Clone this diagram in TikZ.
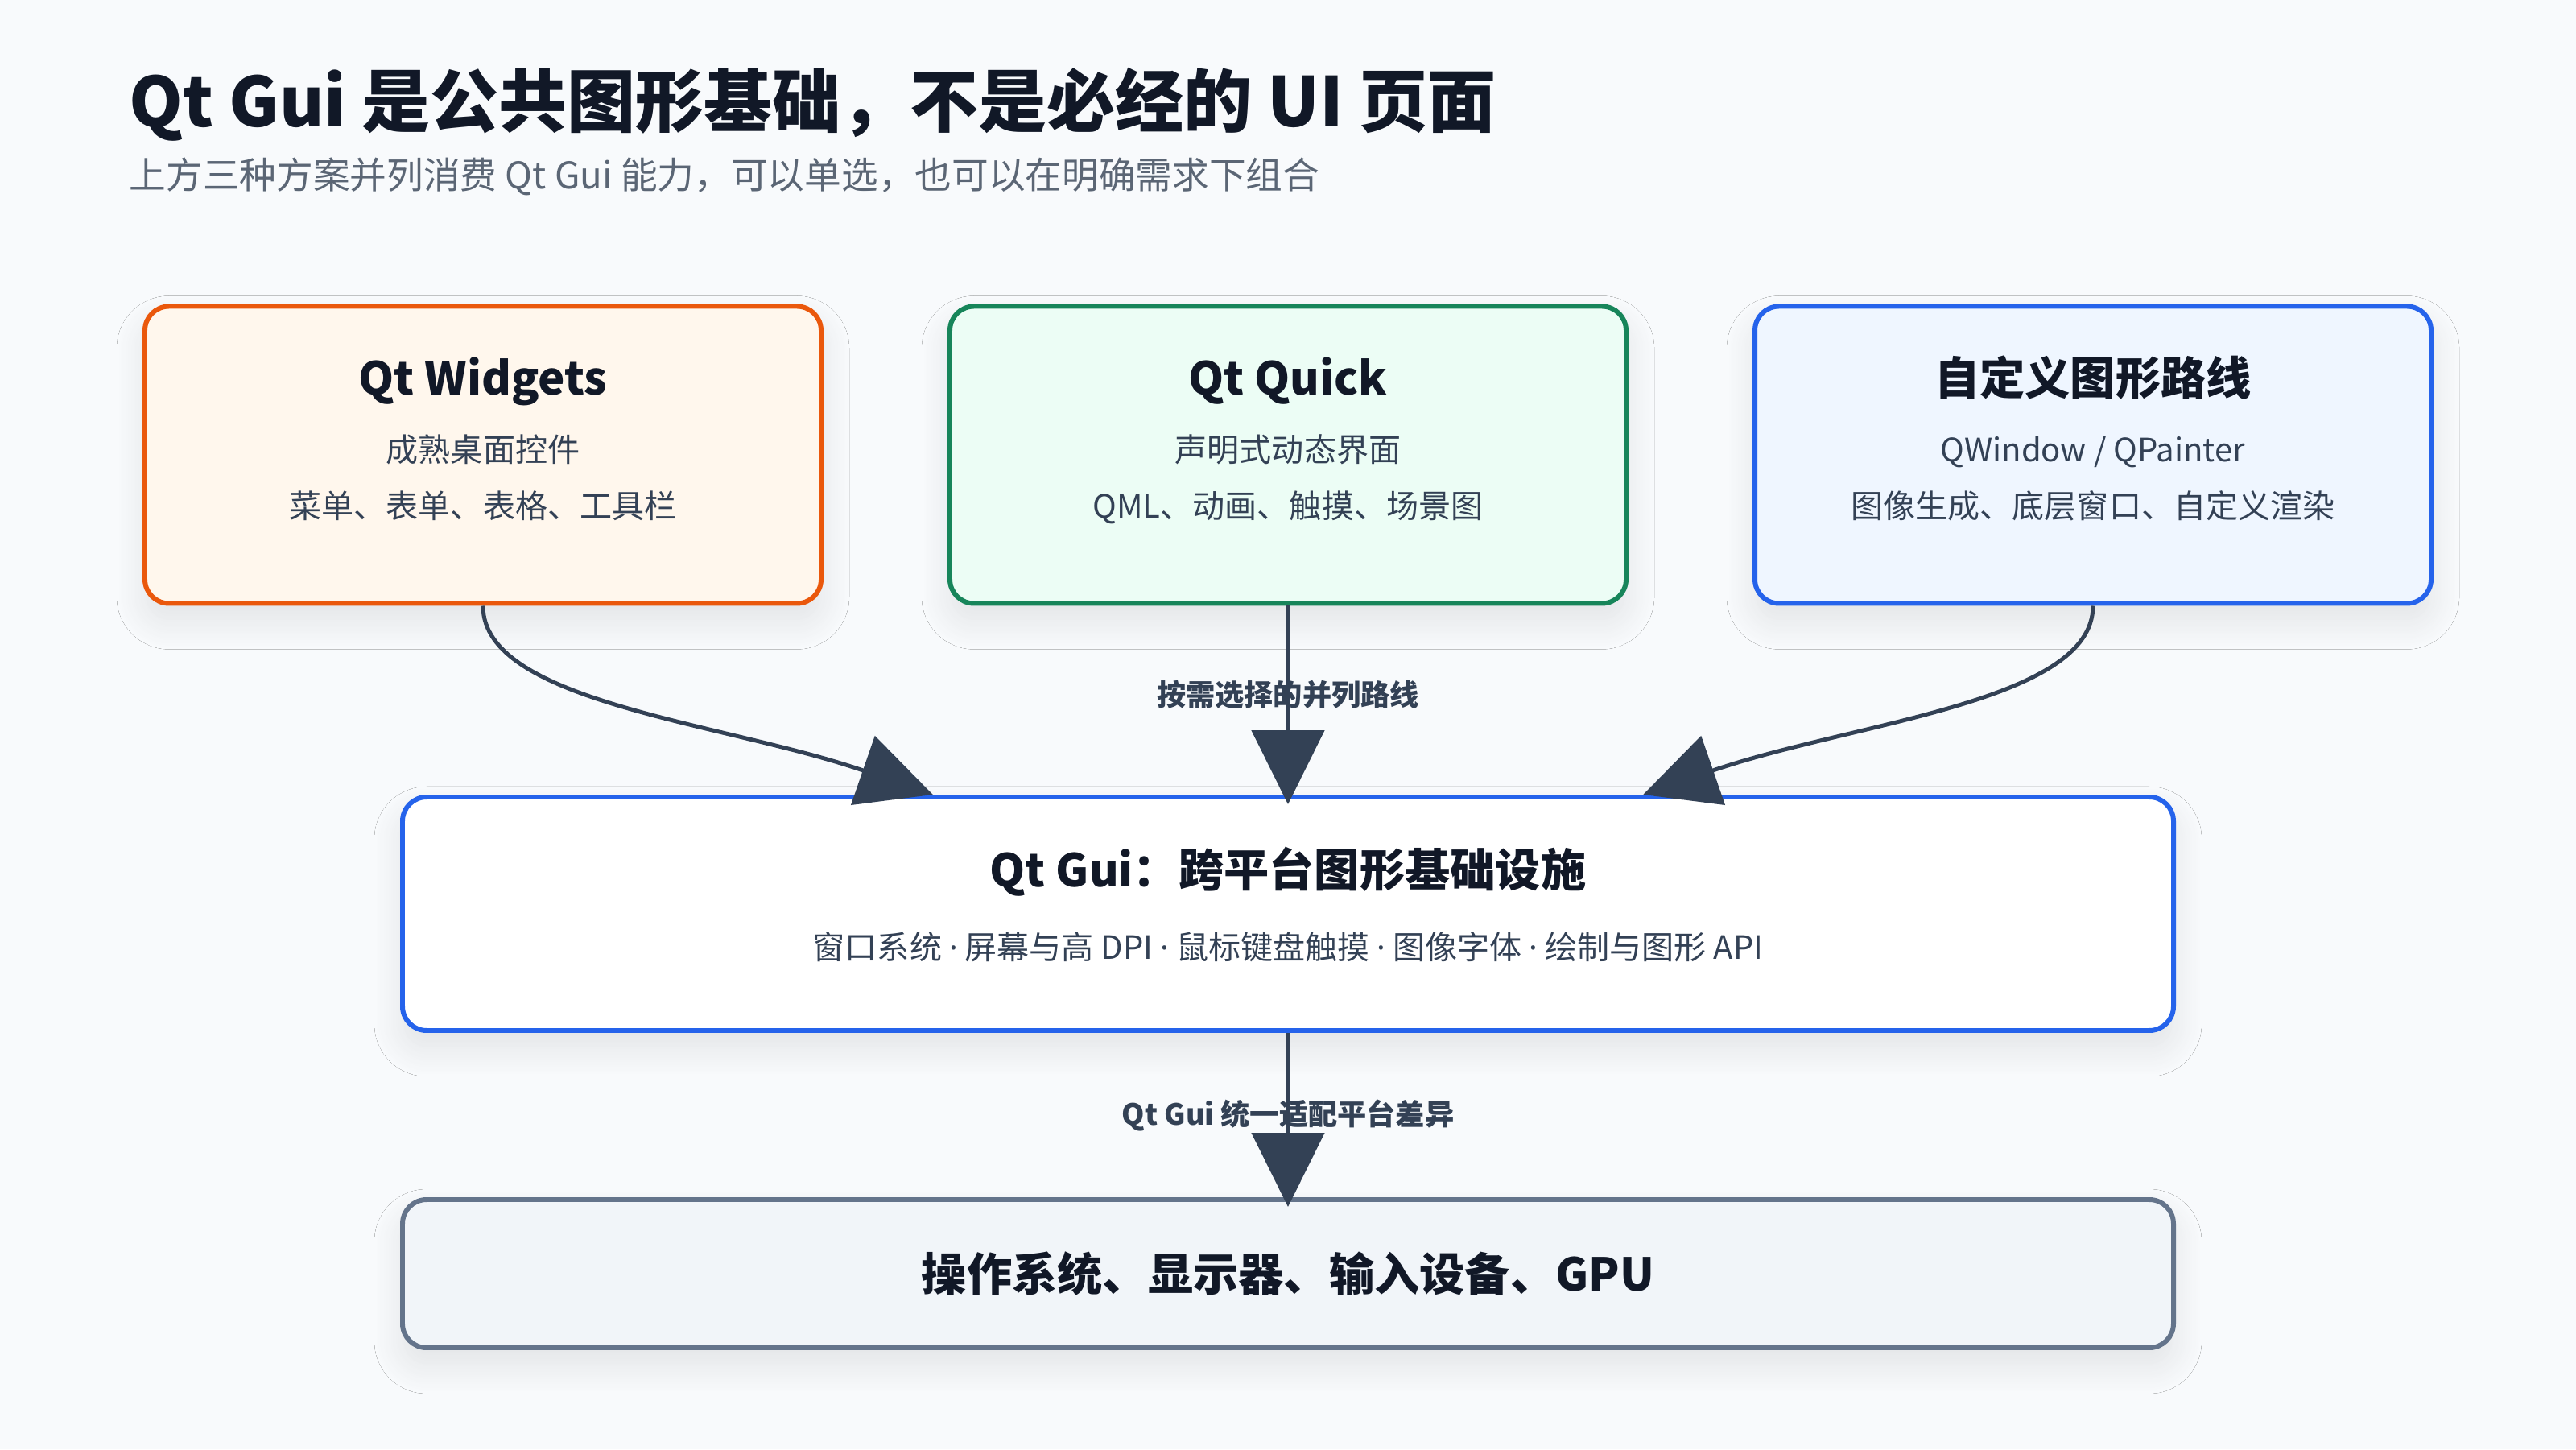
\documentclass[tikz,border=0pt]{standalone}
\usepackage{fontspec}
\setmainfont{Noto Sans CJK SC}
\newfontfamily\latinsans{Noto Sans}
\usetikzlibrary{arrows.meta,calc,shadows.blur}

\definecolor{fondo}{HTML}{F8FAFC}
\definecolor{tinta}{HTML}{111827}
\definecolor{texto}{HTML}{334155}
\definecolor{gris}{HTML}{5B6675}
\definecolor{naranja}{HTML}{EA580C}
\definecolor{naranjafondo}{HTML}{FFF7ED}
\definecolor{verde}{HTML}{17855A}
\definecolor{verdefondo}{HTML}{ECFDF5}
\definecolor{azul}{HTML}{2563EB}
\definecolor{azulfondo}{HTML}{EFF6FF}
\definecolor{pizarra}{HTML}{64748B}
\definecolor{pizarrafondo}{HTML}{F1F5F9}

\newcommand{\punto}{{\latinsans ·}}

\begin{document}
\begin{tikzpicture}[
    caja/.style={line width=1.7pt, rounded corners=0.3cm,
        blur shadow={shadow xshift=0pt, shadow yshift=-0.22cm, shadow blur steps=16,
            shadow blur radius=0.35cm, shadow opacity=9}},
    titulocaja/.style={anchor=base, text=tinta, font=\fontsize{16pt}{19pt}\selectfont\bfseries},
    detalle/.style={anchor=base, text=texto, font=\fontsize{11.4pt}{14pt}\selectfont},
    flecha/.style={draw=texto, line width=1.42pt, -{Triangle[length=0.92cm, width=0.9cm]}},
    etiqueta/.style={text=texto, font=\fontsize{10.3pt}{12pt}\selectfont\bfseries}
]
    \useasboundingbox (0,0) rectangle (32,18);
    \fill[fondo] (0,0) rectangle (32,18);

    % Titulo y subtitulo
    \node[anchor=base west, text=tinta, inner sep=0pt,
        font=\fontsize{24.2pt}{28pt}\selectfont\bfseries] (titulo) at (1.6,16.42)
        {Qt Gui 是公共图形基础，不是必经的 UI 页面};
    \node[anchor=base west, text=gris, inner sep=0pt,
        font=\fontsize{13pt}{16pt}\selectfont] (subtitulo) at (1.6,15.65)
        {上方三种方案并列消费 Qt Gui 能力，可以单选，也可以在明确需求下组合};

    % Tres rutas paralelas
    \foreach \x/\nm/\bd/\fl/\titulo/\lineaA/\lineaB in {
        6/wid/naranja/naranjafondo/{Qt Widgets}/成熟桌面控件/菜单、表单、表格、工具栏,
        16/qml/verde/verdefondo/{Qt Quick}/声明式动态界面/QML、动画、触摸、场景图,
        26/cus/azul/azulfondo/自定义图形路线/{QWindow / QPainter}/图像生成、底层窗口、自定义渲染}{
        \node[caja, draw=\bd, fill=\fl, minimum width=8.4cm, minimum height=3.69cm]
            (\nm) at (\x,12.35) {};
        \node[titulocaja] (\nm-t) at (\x,13.09) {\titulo};
        \node[detalle] (\nm-a) at (\x,12.26) {\lineaA};
        \node[detalle] (\nm-b) at (\x,11.56) {\lineaB};
    }

    % Capa comun
    \node[caja, draw=azul, fill=white, minimum width=22cm, minimum height=2.9cm]
        (gui) at (16,6.65) {};
    \node[titulocaja] (gui-t) at (16,6.99) {Qt Gui：跨平台图形基础设施};
    \node[detalle] (gui-a) at (16,6.09)
        {窗口系统 \punto{} 屏幕与高 DPI \punto{} 鼠标键盘触摸 \punto{} 图像字体 \punto{} 绘制与图形 API};

    \node[caja, draw=pizarra, fill=pizarrafondo, minimum width=22cm, minimum height=1.84cm]
        (so) at (16,2.18) {};
    \node[titulocaja] (so-t) at (16,1.97) {操作系统、显示器、输入设备、GPU};

    % Conexiones
    \draw[flecha] (wid.south) .. controls +(0,-1.2) and +(-2.6,0.9)
        .. ($(gui.north west)!0.3!(gui.north east)$);
    \draw[flecha] (cus.south) .. controls +(0,-1.2) and +(2.6,0.9)
        .. ($(gui.north west)!0.7!(gui.north east)$);
    \draw[flecha, shorten >=-0.12cm] (qml.south) -- node[etiqueta, pos=0.47] (ruta) {按需选择的并列路线} (gui.north);
    \draw[flecha, shorten >=-0.12cm] (gui.south) -- node[etiqueta] (adapta) {Qt Gui 统一适配平台差异} (so.north);
\end{tikzpicture}
\end{document}
